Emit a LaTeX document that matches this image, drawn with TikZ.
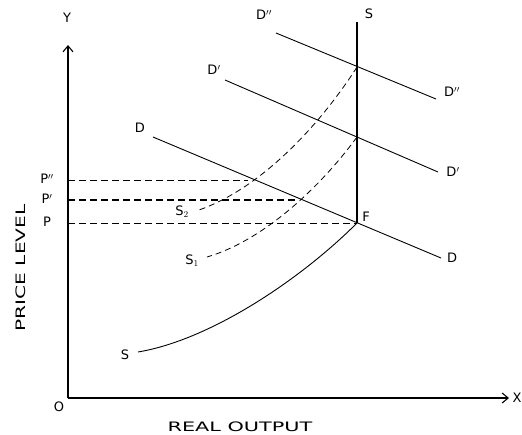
\documentclass[tikz,border=0pt]{standalone}
\usepackage{fontspec}
\setmainfont{DejaVu Sans}
\usetikzlibrary{arrows.meta}
\begin{document}
\begin{tikzpicture}[x=1pt,y=-1pt,
  axis/.style={line width=1.1pt,-{Straight Barb[length=6pt,width=10pt]}},
  curve/.style={line width=0.9pt},
  dcurve/.style={line width=0.8pt,dash pattern=on 6pt off 4pt},
  level/.style={line width=0.7pt,dash pattern=on 7pt off 4pt},
  lab/.style={font=\fontsize{13}{15}\selectfont,inner sep=1pt},
  title/.style={font=\fontsize{13}{15}\selectfont,inner sep=1pt}]
\useasboundingbox (0,0) rectangle (522,434);
% points
\coordinate (O) at (68,398);
\coordinate (Ytip) at (68,45);
\coordinate (Xtip) at (509,398);
\coordinate (Stop) at (357,22);
\coordinate (F) at (357,223);
\coordinate (E1) at (357,137);
\coordinate (E2) at (357,67);
\coordinate (Dl) at (153,137);
\coordinate (Dr) at (441,258);
\coordinate (D1l) at (225,80);
\coordinate (D1r) at (438,172);
\coordinate (D2l) at (276,33);
\coordinate (D2r) at (436,99);
\coordinate (A2) at (248,180);
\coordinate (A1) at (295,200);
\coordinate (Pp) at (68,180);
\coordinate (Ppr) at (68,200);
\coordinate (Pz) at (68,223);
\coordinate (S2end) at (196,211);
\coordinate (S1end) at (207,257);
\coordinate (Sstart) at (138,352);
% axes
\draw[axis] (O) -- (Ytip);
\draw[axis] (O) -- (Xtip);
% labels
\node[lab] (ly) at (67,18) {Y};
\node[lab] (lx) at (517,398) {X};
\node[lab] (lo) at (59,407) {O};
\node[title,rotate=90] (lpl) at (21,268) {\scalebox{1.55}[1]{PRICE LEVEL}};
\node[title] (lro) at (240,427) {\scalebox{1.6}[1]{REAL OUTPUT}};
\node[lab] (lpp) at (47,179) {P$''$};
\node[lab] (lp1) at (47,199) {P$'$};
\node[lab] (lp0) at (47,222) {P};
\node[lab] (lS) at (369,14) {S};
\node[lab] (lF) at (366,217) {F};
\node[lab] (lD) at (140,128) {D};
\node[lab] (lDr) at (452,258) {D};
\node[lab] (lD1) at (214,70) {D$'$};
\node[lab] (lD1r) at (453,172) {D$'$};
\node[lab] (lD2) at (264,15) {D$''$};
\node[lab] (lD2r) at (452,92) {D$''$};
\node[lab] (lS2) at (182,212) {S$_2$};
\node[lab] (lS1) at (192,261) {S$_1$};
\node[lab] (lSs) at (125,355) {S};
% lines
\draw[line width=1.1pt] (Stop) -- (F);
\draw[curve] (Dl) -- (Dr);
\draw[curve] (D1l) -- (D1r);
\draw[curve] (D2l) -- (D2r);
\draw[level] (Pp) -- (A2);
\draw[level,line width=1.1pt] (Ppr) -- (A1);
\draw[level] (Pz) -- (F);
\draw[dcurve] (E2) .. controls (320,125) and (260,190) .. (S2end);
\draw[dcurve] (E1) .. controls (322,185) and (265,240) .. (S1end);
\draw[curve] (Sstart) .. controls (210,340) and (300,280) .. (F);
\end{tikzpicture}
\end{document}
